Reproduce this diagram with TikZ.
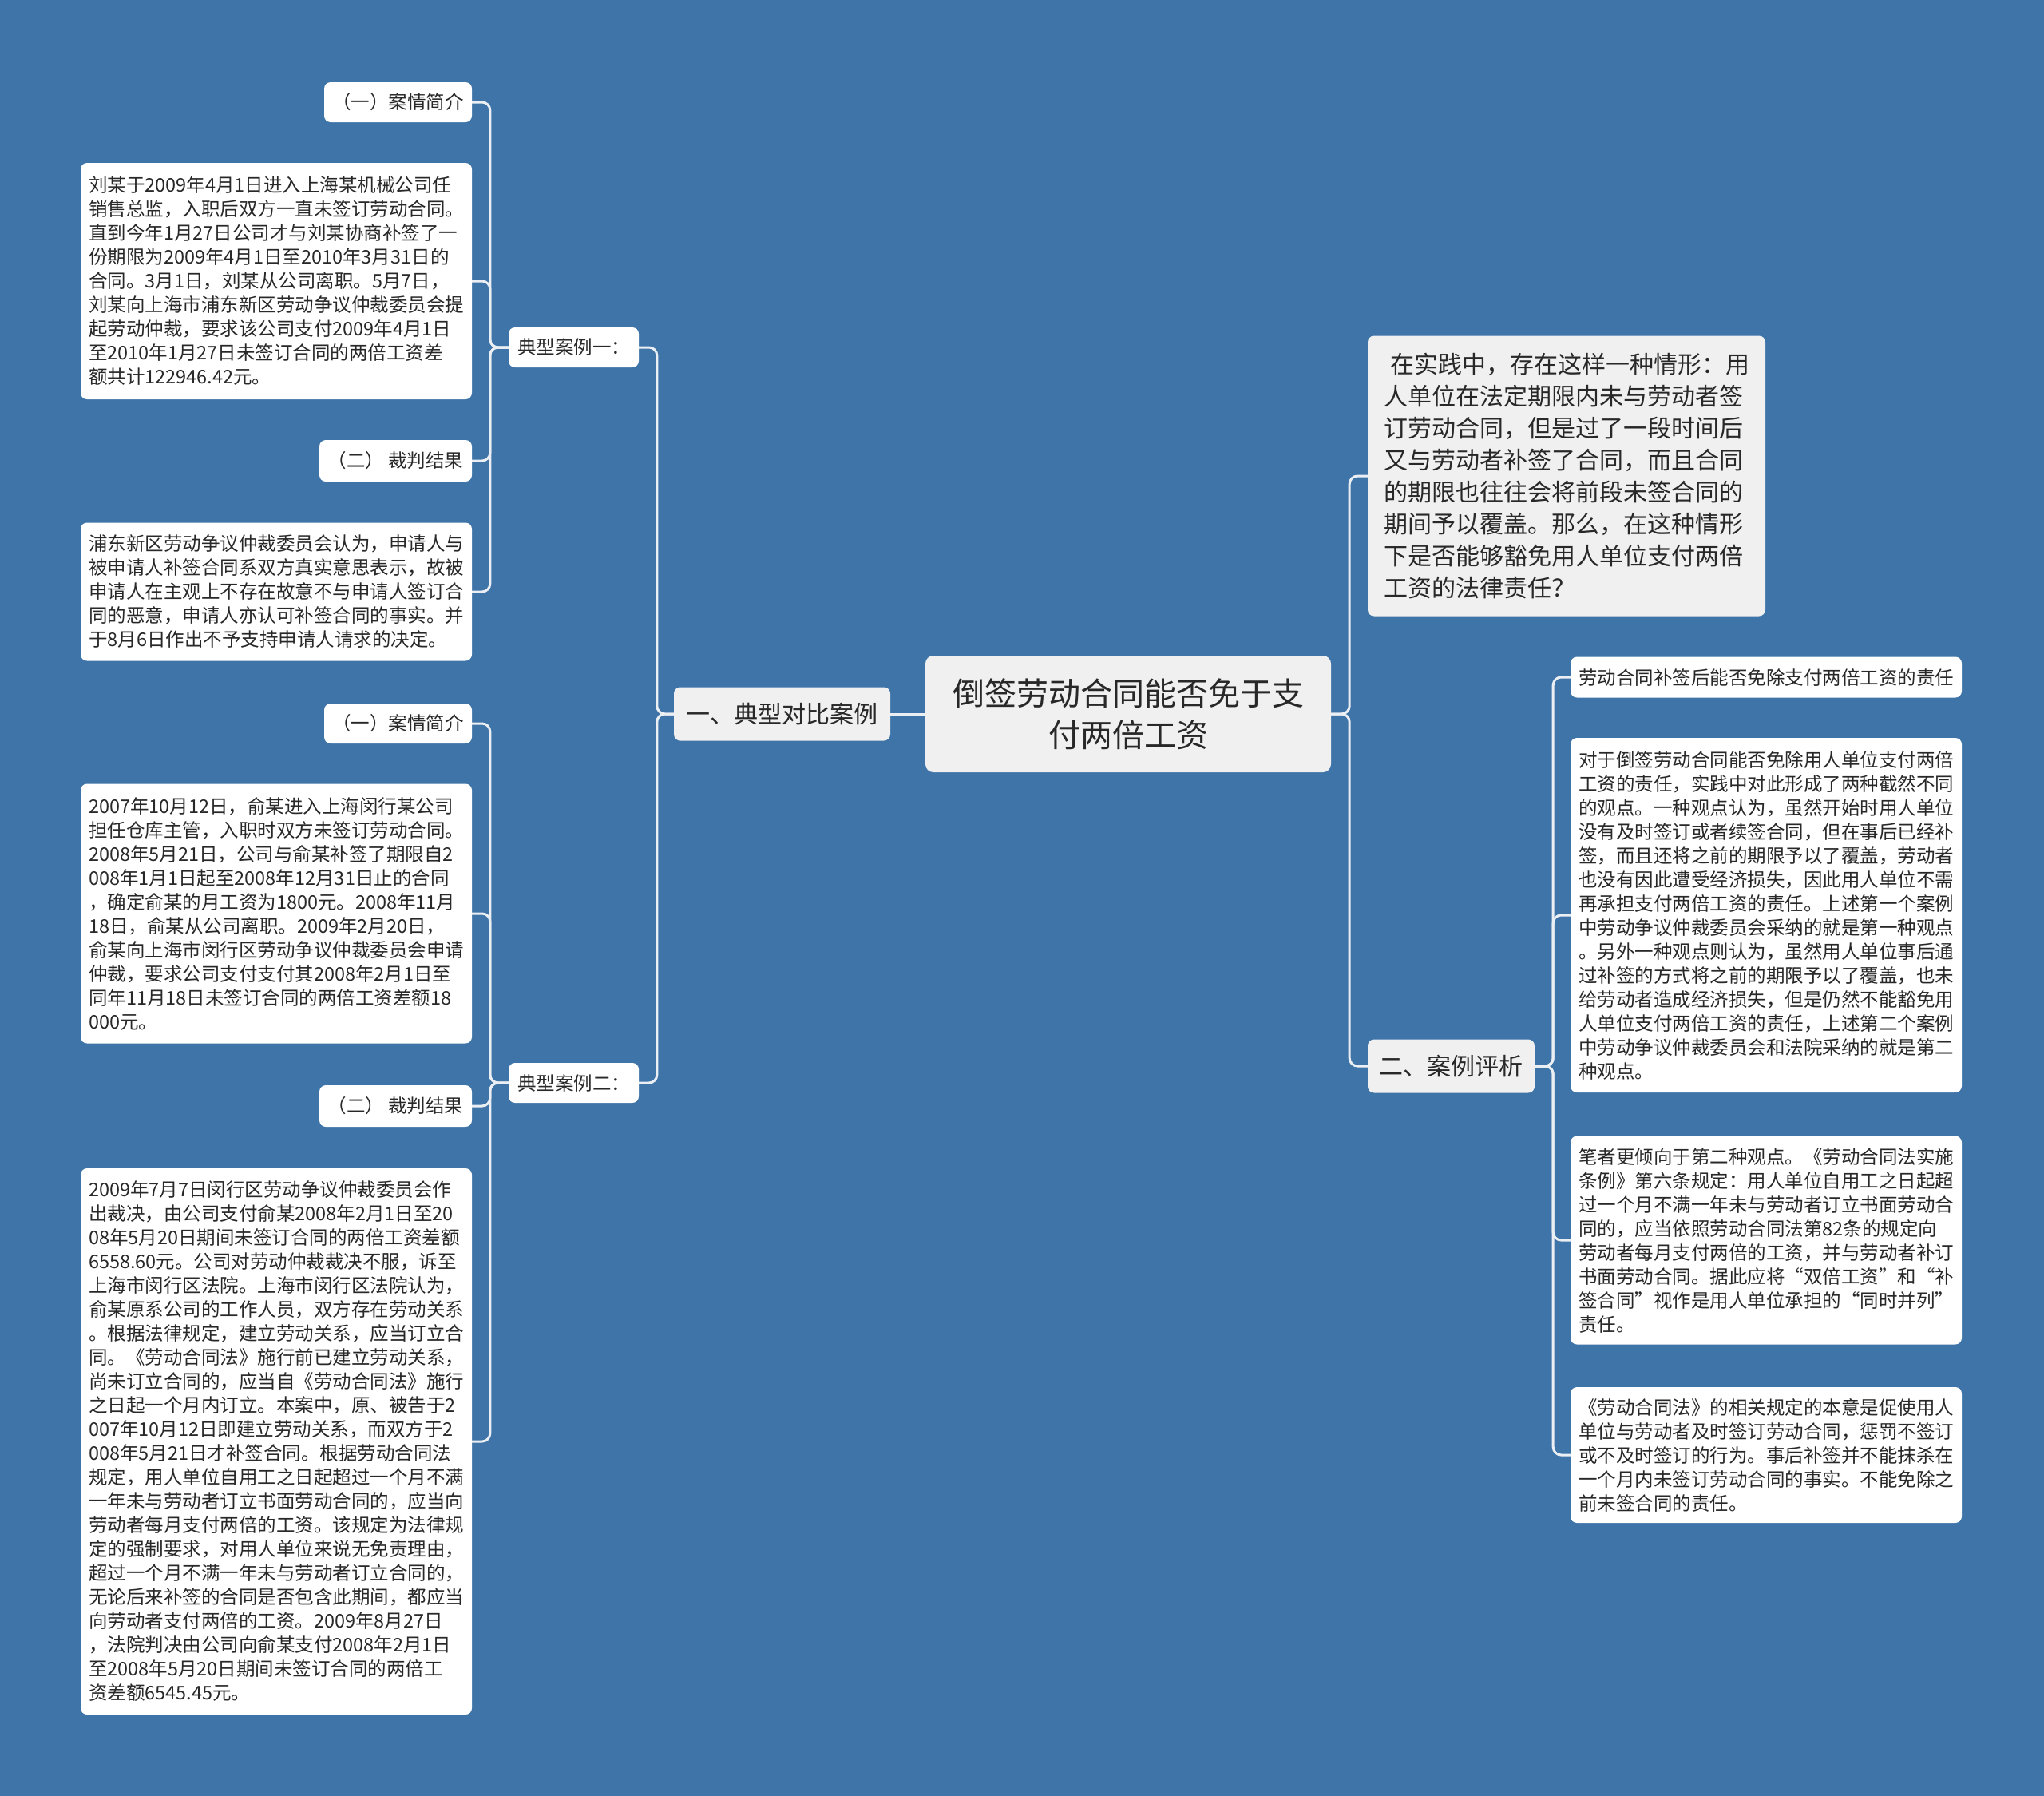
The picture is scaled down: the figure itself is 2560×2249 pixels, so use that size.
\documentclass[tikz,border=0pt]{standalone}
\usepackage{fontspec}
\setmainfont{Noto Sans CJK SC}
\definecolor{bg}{RGB}{62,116,168}
\definecolor{txt}{RGB}{40,40,40}
\definecolor{lightbox}{RGB}{240,240,240}
\definecolor{conncol}{RGB}{235,238,242}
\tikzset{
  box/.style={draw=none, rounded corners=8pt, text=txt, align=left, inner sep=0pt},
  leaf/.style={box, fill=white, font=\fontsize{23.5}{30}\selectfont},
  grey/.style={box, fill=lightbox},
  conn/.style={draw=conncol, line width=3pt, rounded corners=10pt}
}
\begin{document}
\begin{tikzpicture}[x=1pt,y=-1pt]
\fill[bg] (0,0) rectangle (2560,2249);
\useasboundingbox (0,0) rectangle (2560,2249);

% center
\node[grey, rounded corners=10pt, align=center, font=\fontsize{40}{52}\selectfont, minimum width=508pt, minimum height=146pt] (center) at (1413,894) {倒签劳动合同能否免于支\\付两倍工资};

% left main
\node[grey, font=\fontsize{30}{38}\selectfont, minimum width=271pt, minimum height=67pt] (lmain) at (979.5,894) {一、典型对比案例};

\node[leaf, minimum width=163pt, minimum height=50pt] (case1) at (718.5,435) {典型案例一：};
\node[leaf, minimum width=163pt, minimum height=50pt] (case2) at (718.5,1356) {典型案例二：};

\node[leaf, minimum width=185pt, minimum height=50pt] (c1a) at (498.5,128) {（一）案情简介};
\node[leaf, minimum width=490pt, minimum height=296pt] (t1) at (346,352) {刘某于2009年4月1日进入上海某机械公司任\\销售总监，入职后双方一直未签订劳动合同。\\直到今年1月27日公司才与刘某协商补签了一\\份期限为2009年4月1日至2010年3月31日的\\合同。3月1日，刘某从公司离职。5月7日，\\刘某向上海市浦东新区劳动争议仲裁委员会提\\起劳动仲裁，要求该公司支付2009年4月1日\\至2010年1月27日未签订合同的两倍工资差\\额共计122946.42元。};
\node[leaf, minimum width=191pt, minimum height=52pt] (c1b) at (495.5,577) {（二）\ 裁判结果};
\node[leaf, minimum width=490pt, minimum height=173pt] (t2) at (346,741) {浦东新区劳动争议仲裁委员会认为，申请人与\\被申请人补签合同系双方真实意思表示，故被\\申请人在主观上不存在故意不与申请人签订合\\同的恶意，申请人亦认可补签合同的事实。并\\于8月6日作出不予支持申请人请求的决定。};

\node[leaf, minimum width=185pt, minimum height=50pt] (c2a) at (498.5,906) {（一）案情简介};
\node[leaf, minimum width=490pt, minimum height=325pt] (t3) at (346,1144) {2007年10月12日，俞某进入上海闵行某公司\\担任仓库主管，入职时双方未签订劳动合同。\\2008年5月21日，公司与俞某补签了期限自2\\008年1月1日起至2008年12月31日止的合同\\，确定俞某的月工资为1800元。2008年11月\\18日，俞某从公司离职。2009年2月20日，\\俞某向上海市闵行区劳动争议仲裁委员会申请\\仲裁，要求公司支付支付其2008年2月1日至\\同年11月18日未签订合同的两倍工资差额18\\000元。};
\node[leaf, minimum width=191pt, minimum height=52pt] (c2b) at (495.5,1385) {（二）\ 裁判结果};
\node[leaf, minimum width=490pt, minimum height=684pt] (t4) at (346,1805) {2009年7月7日闵行区劳动争议仲裁委员会作\\出裁决，由公司支付俞某2008年2月1日至20\\08年5月20日期间未签订合同的两倍工资差额\\6558.60元。公司对劳动仲裁裁决不服，诉至\\上海市闵行区法院。上海市闵行区法院认为，\\俞某原系公司的工作人员，双方存在劳动关系\\。根据法律规定，建立劳动关系，应当订立合\\同。《劳动合同法》施行前已建立劳动关系，\\尚未订立合同的，应当自《劳动合同法》施行\\之日起一个月内订立。本案中，原、被告于2\\007年10月12日即建立劳动关系，而双方于2\\008年5月21日才补签合同。根据劳动合同法\\规定，用人单位自用工之日起超过一个月不满\\一年未与劳动者订立书面劳动合同的，应当向\\劳动者每月支付两倍的工资。该规定为法律规\\定的强制要求，对用人单位来说无免责理由，\\超过一个月不满一年未与劳动者订立合同的，\\无论后来补签的合同是否包含此期间，都应当\\向劳动者支付两倍的工资。2009年8月27日\\，法院判决由公司向俞某支付2008年2月1日\\至2008年5月20日期间未签订合同的两倍工\\资差额6545.45元。};

% right side
\node[grey, font=\fontsize{30}{40}\selectfont, minimum width=498pt, minimum height=351pt] (rtop) at (1962,596) {\hspace*{8pt}在实践中，存在这样一种情形：用\\人单位在法定期限内未与劳动者签\\订劳动合同，但是过了一段时间后\\又与劳动者补签了合同，而且合同\\的期限也往往会将前段未签合同的\\期间予以覆盖。那么，在这种情形\\下是否能够豁免用人单位支付两倍\\工资的法律责任？};
\node[grey, font=\fontsize{30}{38}\selectfont, minimum width=209pt, minimum height=67pt] (r2) at (1817.5,1335) {二、案例评析};

\node[leaf, minimum width=490pt, minimum height=51pt] (ra) at (2212,848) {劳动合同补签后能否免除支付两倍工资的责任};
\node[leaf, minimum width=490pt, minimum height=444pt] (rb) at (2212,1146) {对于倒签劳动合同能否免除用人单位支付两倍\\工资的责任，实践中对此形成了两种截然不同\\的观点。一种观点认为，虽然开始时用人单位\\没有及时签订或者续签合同，但在事后已经补\\签，而且还将之前的期限予以了覆盖，劳动者\\也没有因此遭受经济损失，因此用人单位不需\\再承担支付两倍工资的责任。上述第一个案例\\中劳动争议仲裁委员会采纳的就是第一种观点\\。另外一种观点则认为，虽然用人单位事后通\\过补签的方式将之前的期限予以了覆盖，也未\\给劳动者造成经济损失，但是仍然不能豁免用\\人单位支付两倍工资的责任，上述第二个案例\\中劳动争议仲裁委员会和法院采纳的就是第二\\种观点。};
\node[leaf, minimum width=490pt, minimum height=261pt] (rc) at (2212,1553) {笔者更倾向于第二种观点。《劳动合同法实施\\条例》第六条规定：用人单位自用工之日起超\\过一个月不满一年未与劳动者订立书面劳动合\\同的，应当依照劳动合同法第82条的规定向\\劳动者每月支付两倍的工资，并与劳动者补订\\书面劳动合同。据此应将“双倍工资”和“补\\签合同”视作是用人单位承担的“同时并列”\\责任。};
\node[leaf, minimum width=490pt, minimum height=170pt] (rd) at (2212,1822) {《劳动合同法》的相关规定的本意是促使用人\\单位与劳动者及时签订劳动合同，惩罚不签订\\或不及时签订的行为。事后补签并不能抹杀在\\一个月内未签订劳动合同的事实。不能免除之\\前未签合同的责任。};

% connectors
\draw[conn] (center.west) -- (lmain.east);
\draw[conn] (lmain.west) -- ++(-21,0) |- (case1.east);
\draw[conn] (lmain.west) -- ++(-21,0) |- (case2.east);

\foreach \c in {c1a,t1,c1b,t2}{
  \draw[conn] (case1.west) -- ++(-23,0) |- (\c.east);
}
\foreach \c in {c2a,t3,c2b,t4}{
  \draw[conn] (case2.west) -- ++(-23,0) |- (\c.east);
}

\draw[conn] (center.east) -- ++(23,0) |- (rtop.west);
\draw[conn] (center.east) -- ++(23,0) |- (r2.west);
\foreach \c in {ra,rb,rc,rd}{
  \draw[conn] (r2.east) -- ++(23,0) |- (\c.west);
}
\end{tikzpicture}
\end{document}
